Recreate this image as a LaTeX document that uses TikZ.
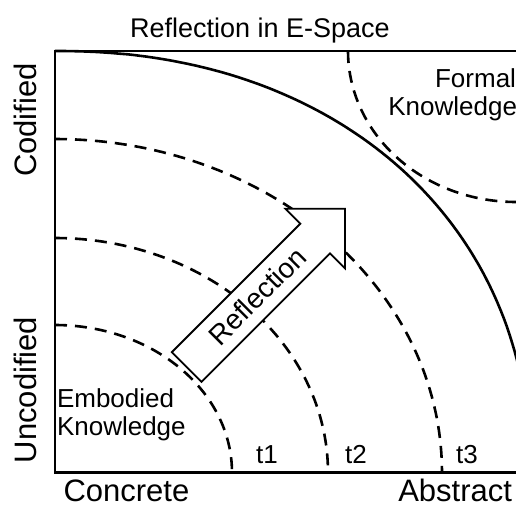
\documentclass[tikz,border=0pt]{standalone}
\usepackage{fontspec}
\setmainfont{Liberation Sans}
\begin{document}
\begin{tikzpicture}[x=1pt,y=-1pt,
  axisline/.style={line width=2.8pt},
  solidarc/.style={line width=2.6pt},
  dasharc/.style={line width=2.6pt, dash pattern=on 12pt off 8pt},
  arrowshape/.style={line width=1.8pt, fill=white, line join=miter},
  lab/.style={inner sep=0pt, outer sep=0pt},
  big/.style={lab, font=\fontsize{31}{31}\selectfont},
  mid/.style={lab, font=\fontsize{26}{26}\selectfont}]
\useasboundingbox (0,0) rectangle (516,506);
\fill[white] (0,0) rectangle (516,506);

% axes
\coordinate (TL) at (55,51);
\coordinate (TR) at (518,51);
\coordinate (BL) at (55,472.5);
\coordinate (BR) at (518,472.5);
\draw[axisline] (TR) -- (TL) -- (BL) -- (BR);

% dashed time arcs
\draw[dasharc] plot[domain=90:0, samples=80] ({55+177*cos(\x)},{472.5-147.5*sin(\x)});
\draw[dasharc] plot[domain=90:0, samples=80] ({55+273*cos(\x)},{472.5-234.5*sin(\x)});
\draw[dasharc] plot[domain=90:0, samples=80] ({55+387*cos(\x)},{472.5-333.5*sin(\x)});
% formal knowledge arc
\draw[dasharc] plot[domain=180:270, samples=60] ({516+168*cos(\x)},{51-151*sin(\x)});

% solid boundary (superellipse)
\draw[solidarc] (TL) -- plot[domain=89.9:12, samples=150] ({55+475*pow(cos(\x),0.9302)},{472.5-421.5*pow(sin(\x),0.9302)});

% reflection arrow
\coordinate (A) at (171.85,352.15);
\coordinate (B) at (201.55,381.85);
\coordinate (C) at (330.05,253.35);
\coordinate (D) at (344.9,268.2);
\coordinate (E) at (344.9,208.8);
\coordinate (F) at (285.5,208.8);
\coordinate (G) at (300.35,223.65);
\draw[arrowshape] (A) -- (B) -- (C) -- (D) -- (E) -- (F) -- (G) -- cycle;
\node[lab, font=\fontsize{28}{28}\selectfont, rotate=45] (refl) at (257,296) {Reflection};

% labels
\node[lab, font=\fontsize{27}{27}\selectfont, anchor=base] (title) at (260,37) {Reflection in E-Space};
\node[big, anchor=base west] (concrete) at (63.5,501) {Concrete};
\node[big, anchor=base east] (abstract) at (512,501) {Abstract};
\node[big, anchor=base, rotate=90] (codified) at (36,120) {Codified};
\node[big, anchor=base, rotate=90] (uncodified) at (36,390) {Uncodified};
\node[mid, anchor=base east] (formal1) at (516,87) {Formal};
\node[mid, anchor=base east] (formal2) at (517,115) {Knowledge};
\node[mid, anchor=base west] (emb1) at (57,407) {Embodied};
\node[mid, anchor=base west] (emb2) at (57,435) {Knowledge};
\node[mid, anchor=base] (t1) at (267,463) {t1};
\node[mid, anchor=base] (t2) at (356,463) {t2};
\node[mid, anchor=base] (t3) at (467,463) {t3};
\end{tikzpicture}
\end{document}
